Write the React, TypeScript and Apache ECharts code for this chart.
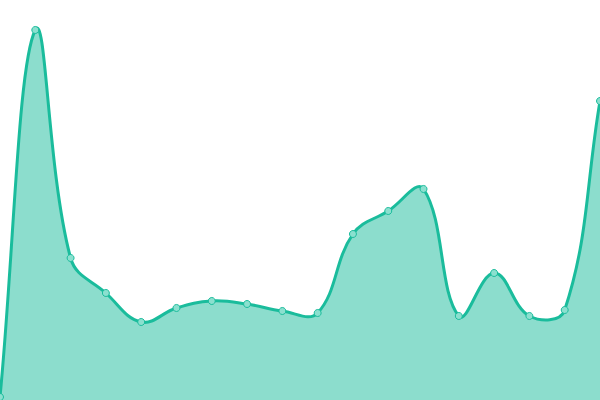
import React, { useEffect, useRef } from 'react';
import * as echarts from 'echarts';

const LINE_COLOR = '#1abc9c';
const AREA_COLOR = 'rgba(26, 188, 156, 0.5)';
const POINT_FILL = '#8be0cf';
const TENSION = 0.4;

const categories = [
  'A', 'B', 'C', 'D', 'E', 'F', 'G', 'H', 'I',
  'J', 'K', 'L', 'M', 'N', 'O', 'P', 'Q', 'R',
];
const values = [3, 370, 142, 107, 78, 92, 99, 96, 89, 87, 166, 189, 211, 84, 127, 84, 90, 299];

// cardinal spline control points (same shape as chart.js tension)
const controlPoints = (pts: number[][]) => {
  return pts.map((p1, i) => {
    const p0 = pts[i - 1] || p1;
    const p2 = pts[i + 1] || p1;
    const d01 = Math.hypot(p1[0] - p0[0], p1[1] - p0[1]);
    const d12 = Math.hypot(p2[0] - p1[0], p2[1] - p1[1]);
    let s01 = d01 / (d01 + d12);
    let s12 = d12 / (d01 + d12);
    s01 = isNaN(s01) ? 0 : s01;
    s12 = isNaN(s12) ? 0 : s12;
    const fa = TENSION * s01;
    const fb = TENSION * s12;
    return {
      prev: [p1[0] - fa * (p2[0] - p0[0]), p1[1] - fa * (p2[1] - p0[1])],
      next: [p1[0] + fb * (p2[0] - p0[0]), p1[1] + fb * (p2[1] - p0[1])],
    };
  });
};

const App: React.FC = () => {
  const divEL = useRef<HTMLDivElement>(null);

  useEffect(() => {
    const instance = echarts.init(divEL.current as any, null, { renderer: 'svg' });

    const renderItem = (params: any, api: any) => {
      if (params.dataIndex !== 0) return null;
      const pts = values.map((v, i) => api.coord([i, v]));
      const cps = controlPoints(pts);
      let d = `M${pts[0][0]},${pts[0][1]}`;
      for (let i = 1; i < pts.length; i++) {
        const a = cps[i - 1].next;
        const b = cps[i].prev;
        d += ` C${a[0]},${a[1]} ${b[0]},${b[1]} ${pts[i][0]},${pts[i][1]}`;
      }
      const base = api.coord([0, 0])[1];
      const last = pts[pts.length - 1];
      const area = `${d} L${last[0]},${base} L${pts[0][0]},${base} Z`;
      return {
        type: 'group',
        children: [
          {
            type: 'path',
            shape: { pathData: area },
            style: { fill: AREA_COLOR, stroke: 'none' },
          },
          {
            type: 'path',
            shape: { pathData: d },
            style: { fill: 'none', stroke: LINE_COLOR, lineWidth: 3 },
          },
        ],
      };
    };

    const option: echarts.EChartsOption = {
      animation: false,
      grid: { left: 0, right: 0, top: 0, bottom: 0 },
      xAxis: {
        type: 'category',
        data: categories,
        boundaryGap: false,
        show: false,
      },
      yAxis: {
        type: 'value',
        min: 0,
        max: 400,
        show: false,
      },
      series: [
        {
          type: 'custom',
          renderItem: renderItem as any,
          data: values.map((v, i) => [i, v]),
          clip: false,
        },
        {
          type: 'scatter',
          data: values,
          symbol: 'circle',
          symbolSize: 7,
          itemStyle: { color: POINT_FILL, borderColor: LINE_COLOR, borderWidth: 1, opacity: 1 },
        },
      ],
    };
    instance.setOption(option);
    return () => {
      instance.dispose();
    };
  }, []);

  return (
    <div
      ref={divEL}
      style={{ position: 'absolute', left: 0, top: 0, width: 600, height: 400 }}
    ></div>
  );
};

export default App;
